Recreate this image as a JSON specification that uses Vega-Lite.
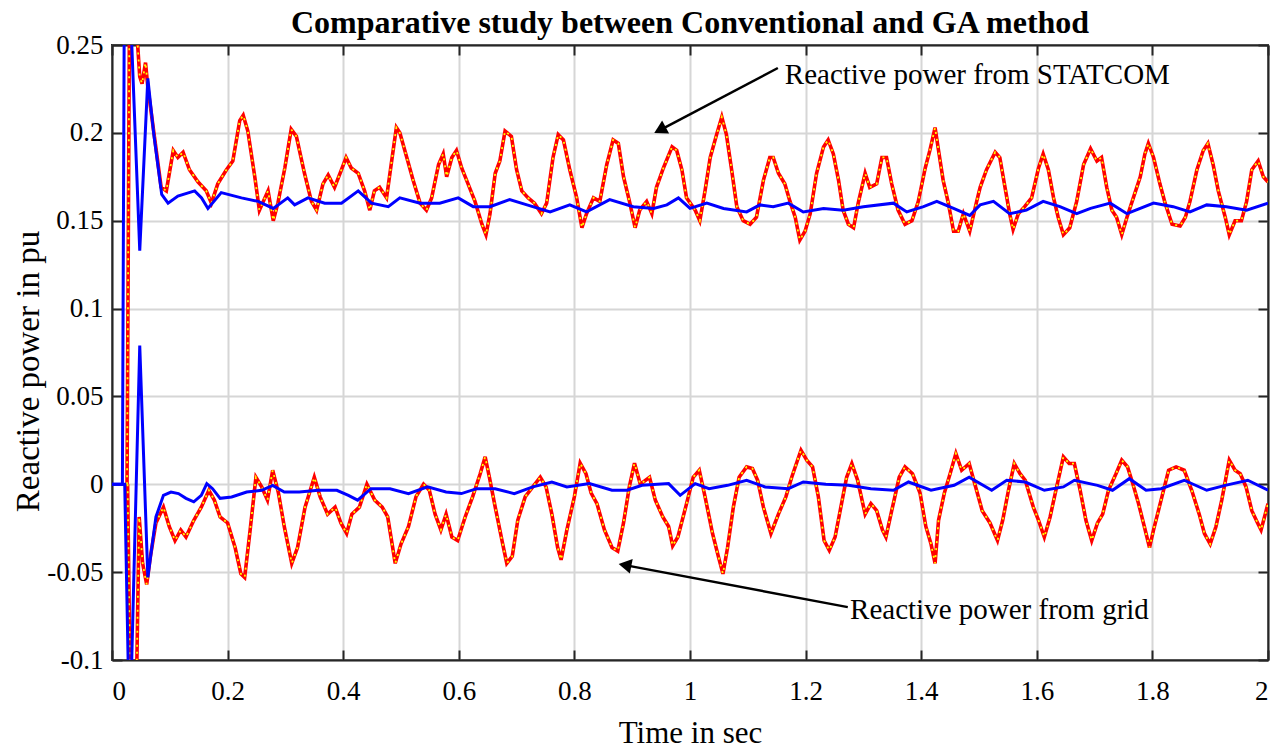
{
 "$schema": "https://vega.github.io/schema/vega-lite/v6.json",
 "width": 1156,
 "height": 615,
 "autosize": {"type": "none"},
 "padding": {"left": 112, "top": 45, "right": 20, "bottom": 90},
 "background": "white",
 "config": {
  "font": "Liberation Serif",
  "view": {"stroke": "#262626", "strokeWidth": 2},
  "axis": {
   "labelFont": "Liberation Serif", "labelFontSize": 27, "labelColor": "#000000",
   "titleFont": "Liberation Serif", "titleFontWeight": "normal", "titleColor": "#000000",
   "domainColor": "#262626", "domainWidth": 2,
   "tickColor": "#262626", "tickWidth": 2, "tickSize": -10,
   "gridColor": "#d6d6d6", "gridWidth": 2, "gridOpacity": 1
  }
 },
 "title": {"text": "Comparative study between Conventional and GA method", "font": "Liberation Serif", "fontSize": 32, "fontWeight": "bold", "color": "#000000", "offset": 8, "dy": 17, "anchor": "middle", "frame": "group"},
 "datasets": {
  "d": [
{"s":"sc","t":0.026,"q":0},{"s":"sc","t":0.03,"q":0.252},{"s":"sc","t":0.044,"q":0.252},{"s":"sc","t":0.048,"q":0.232},{"s":"sc","t":0.052,"q":0.228},{"s":"sc","t":0.058,"q":0.24},{"s":"sc","t":0.062,"q":0.226},{"s":"sc","t":0.085,"q":0.169},{"s":"sc","t":0.094,"q":0.167},{"s":"sc","t":0.106,"q":0.19},{"s":"sc","t":0.114,"q":0.186},{"s":"sc","t":0.123,"q":0.189},{"s":"sc","t":0.134,"q":0.179},{"s":"sc","t":0.149,"q":0.172},{"s":"sc","t":0.163,"q":0.167},{"s":"sc","t":0.172,"q":0.16},{"s":"sc","t":0.183,"q":0.171},{"s":"sc","t":0.198,"q":0.179},{"s":"sc","t":0.209,"q":0.184},{"s":"sc","t":0.221,"q":0.207},{"s":"sc","t":0.227,"q":0.21},{"s":"sc","t":0.235,"q":0.201},{"s":"sc","t":0.247,"q":0.175},{"s":"sc","t":0.255,"q":0.156},{"s":"sc","t":0.27,"q":0.167},{"s":"sc","t":0.279,"q":0.15},{"s":"sc","t":0.287,"q":0.16},{"s":"sc","t":0.299,"q":0.18},{"s":"sc","t":0.31,"q":0.202},{"s":"sc","t":0.319,"q":0.198},{"s":"sc","t":0.333,"q":0.177},{"s":"sc","t":0.345,"q":0.161},{"s":"sc","t":0.354,"q":0.156},{"s":"sc","t":0.365,"q":0.171},{"s":"sc","t":0.374,"q":0.176},{"s":"sc","t":0.385,"q":0.169},{"s":"sc","t":0.397,"q":0.179},{"s":"sc","t":0.405,"q":0.186},{"s":"sc","t":0.414,"q":0.18},{"s":"sc","t":0.426,"q":0.177},{"s":"sc","t":0.437,"q":0.167},{"s":"sc","t":0.446,"q":0.156},{"s":"sc","t":0.454,"q":0.167},{"s":"sc","t":0.463,"q":0.169},{"s":"sc","t":0.475,"q":0.163},{"s":"sc","t":0.483,"q":0.182},{"s":"sc","t":0.492,"q":0.203},{"s":"sc","t":0.498,"q":0.2},{"s":"sc","t":0.51,"q":0.186},{"s":"sc","t":0.521,"q":0.173},{"s":"sc","t":0.533,"q":0.16},{"s":"sc","t":0.544,"q":0.156},{"s":"sc","t":0.553,"q":0.163},{"s":"sc","t":0.565,"q":0.182},{"s":"sc","t":0.573,"q":0.188},{"s":"sc","t":0.579,"q":0.175},{"s":"sc","t":0.588,"q":0.186},{"s":"sc","t":0.596,"q":0.19},{"s":"sc","t":0.605,"q":0.18},{"s":"sc","t":0.616,"q":0.171},{"s":"sc","t":0.628,"q":0.161},{"s":"sc","t":0.64,"q":0.148},{"s":"sc","t":0.647,"q":0.142},{"s":"sc","t":0.654,"q":0.154},{"s":"sc","t":0.663,"q":0.177},{"s":"sc","t":0.671,"q":0.184},{"s":"sc","t":0.68,"q":0.201},{"s":"sc","t":0.691,"q":0.198},{"s":"sc","t":0.7,"q":0.179},{"s":"sc","t":0.709,"q":0.167},{"s":"sc","t":0.72,"q":0.163},{"s":"sc","t":0.731,"q":0.16},{"s":"sc","t":0.743,"q":0.154},{"s":"sc","t":0.752,"q":0.16},{"s":"sc","t":0.763,"q":0.186},{"s":"sc","t":0.772,"q":0.199},{"s":"sc","t":0.781,"q":0.196},{"s":"sc","t":0.792,"q":0.179},{"s":"sc","t":0.804,"q":0.163},{"s":"sc","t":0.813,"q":0.146},{"s":"sc","t":0.821,"q":0.154},{"s":"sc","t":0.833,"q":0.163},{"s":"sc","t":0.844,"q":0.161},{"s":"sc","t":0.856,"q":0.182},{"s":"sc","t":0.867,"q":0.196},{"s":"sc","t":0.876,"q":0.194},{"s":"sc","t":0.885,"q":0.175},{"s":"sc","t":0.896,"q":0.16},{"s":"sc","t":0.905,"q":0.146},{"s":"sc","t":0.913,"q":0.156},{"s":"sc","t":0.925,"q":0.161},{"s":"sc","t":0.934,"q":0.154},{"s":"sc","t":0.942,"q":0.169},{"s":"sc","t":0.954,"q":0.18},{"s":"sc","t":0.969,"q":0.192},{"s":"sc","t":0.977,"q":0.19},{"s":"sc","t":0.986,"q":0.179},{"s":"sc","t":0.994,"q":0.163},{"s":"sc","t":1.009,"q":0.156},{"s":"sc","t":1.017,"q":0.15},{"s":"sc","t":1.026,"q":0.167},{"s":"sc","t":1.035,"q":0.186},{"s":"sc","t":1.046,"q":0.199},{"s":"sc","t":1.055,"q":0.209},{"s":"sc","t":1.063,"q":0.199},{"s":"sc","t":1.072,"q":0.179},{"s":"sc","t":1.081,"q":0.158},{"s":"sc","t":1.092,"q":0.15},{"s":"sc","t":1.104,"q":0.148},{"s":"sc","t":1.115,"q":0.152},{"s":"sc","t":1.127,"q":0.173},{"s":"sc","t":1.138,"q":0.186},{"s":"sc","t":1.144,"q":0.186},{"s":"sc","t":1.153,"q":0.177},{"s":"sc","t":1.164,"q":0.171},{"s":"sc","t":1.173,"q":0.161},{"s":"sc","t":1.182,"q":0.152},{"s":"sc","t":1.19,"q":0.139},{"s":"sc","t":1.199,"q":0.144},{"s":"sc","t":1.208,"q":0.154},{"s":"sc","t":1.219,"q":0.177},{"s":"sc","t":1.231,"q":0.192},{"s":"sc","t":1.239,"q":0.196},{"s":"sc","t":1.248,"q":0.188},{"s":"sc","t":1.257,"q":0.173},{"s":"sc","t":1.265,"q":0.156},{"s":"sc","t":1.274,"q":0.148},{"s":"sc","t":1.283,"q":0.146},{"s":"sc","t":1.291,"q":0.16},{"s":"sc","t":1.303,"q":0.177},{"s":"sc","t":1.311,"q":0.169},{"s":"sc","t":1.323,"q":0.171},{"s":"sc","t":1.332,"q":0.186},{"s":"sc","t":1.34,"q":0.186},{"s":"sc","t":1.349,"q":0.171},{"s":"sc","t":1.36,"q":0.156},{"s":"sc","t":1.372,"q":0.148},{"s":"sc","t":1.384,"q":0.15},{"s":"sc","t":1.395,"q":0.161},{"s":"sc","t":1.407,"q":0.18},{"s":"sc","t":1.415,"q":0.19},{"s":"sc","t":1.424,"q":0.203},{"s":"sc","t":1.43,"q":0.19},{"s":"sc","t":1.438,"q":0.173},{"s":"sc","t":1.447,"q":0.16},{"s":"sc","t":1.456,"q":0.144},{"s":"sc","t":1.464,"q":0.144},{"s":"sc","t":1.473,"q":0.154},{"s":"sc","t":1.484,"q":0.144},{"s":"sc","t":1.496,"q":0.161},{"s":"sc","t":1.502,"q":0.169},{"s":"sc","t":1.513,"q":0.179},{"s":"sc","t":1.528,"q":0.189},{"s":"sc","t":1.536,"q":0.186},{"s":"sc","t":1.545,"q":0.169},{"s":"sc","t":1.553,"q":0.154},{"s":"sc","t":1.559,"q":0.145},{"s":"sc","t":1.568,"q":0.154},{"s":"sc","t":1.579,"q":0.158},{"s":"sc","t":1.591,"q":0.163},{"s":"sc","t":1.603,"q":0.18},{"s":"sc","t":1.611,"q":0.188},{"s":"sc","t":1.62,"q":0.179},{"s":"sc","t":1.629,"q":0.163},{"s":"sc","t":1.637,"q":0.152},{"s":"sc","t":1.646,"q":0.142},{"s":"sc","t":1.657,"q":0.146},{"s":"sc","t":1.669,"q":0.161},{"s":"sc","t":1.681,"q":0.182},{"s":"sc","t":1.693,"q":0.191},{"s":"sc","t":1.704,"q":0.184},{"s":"sc","t":1.712,"q":0.186},{"s":"sc","t":1.721,"q":0.169},{"s":"sc","t":1.73,"q":0.156},{"s":"sc","t":1.738,"q":0.152},{"s":"sc","t":1.747,"q":0.142},{"s":"sc","t":1.756,"q":0.152},{"s":"sc","t":1.767,"q":0.163},{"s":"sc","t":1.779,"q":0.175},{"s":"sc","t":1.787,"q":0.188},{"s":"sc","t":1.793,"q":0.194},{"s":"sc","t":1.802,"q":0.186},{"s":"sc","t":1.813,"q":0.171},{"s":"sc","t":1.822,"q":0.16},{"s":"sc","t":1.834,"q":0.148},{"s":"sc","t":1.848,"q":0.147},{"s":"sc","t":1.857,"q":0.152},{"s":"sc","t":1.865,"q":0.161},{"s":"sc","t":1.877,"q":0.179},{"s":"sc","t":1.888,"q":0.19},{"s":"sc","t":1.896,"q":0.194},{"s":"sc","t":1.905,"q":0.182},{"s":"sc","t":1.914,"q":0.167},{"s":"sc","t":1.926,"q":0.152},{"s":"sc","t":1.933,"q":0.142},{"s":"sc","t":1.943,"q":0.15},{"s":"sc","t":1.954,"q":0.15},{"s":"sc","t":1.963,"q":0.161},{"s":"sc","t":1.972,"q":0.179},{"s":"sc","t":1.983,"q":0.184},{"s":"sc","t":1.992,"q":0.175},{"s":"sc","t":2.0,"q":0.172},
{"s":"gc","t":0.027,"q":0},{"s":"gc","t":0.031,"q":-0.102},{"s":"gc","t":0.043,"q":-0.102},{"s":"gc","t":0.047,"q":-0.0186},{"s":"gc","t":0.053,"q":-0.045},{"s":"gc","t":0.06,"q":-0.057},{"s":"gc","t":0.0665,"q":-0.041},{"s":"gc","t":0.076,"q":-0.022},{"s":"gc","t":0.089,"q":-0.013},{"s":"gc","t":0.099,"q":-0.024},{"s":"gc","t":0.109,"q":-0.032},{"s":"gc","t":0.119,"q":-0.026},{"s":"gc","t":0.128,"q":-0.03},{"s":"gc","t":0.1415,"q":-0.0205},{"s":"gc","t":0.1545,"q":-0.013},{"s":"gc","t":0.1676,"q":-0.0034},{"s":"gc","t":0.177,"q":-0.009},{"s":"gc","t":0.187,"q":-0.0186},{"s":"gc","t":0.2,"q":-0.022},{"s":"gc","t":0.213,"q":-0.036},{"s":"gc","t":0.223,"q":-0.051},{"s":"gc","t":0.2295,"q":-0.053},{"s":"gc","t":0.239,"q":-0.026},{"s":"gc","t":0.249,"q":0.004},{"s":"gc","t":0.259,"q":-0.0015},{"s":"gc","t":0.269,"q":-0.009},{"s":"gc","t":0.278,"q":0.008},{"s":"gc","t":0.288,"q":-0.005},{"s":"gc","t":0.298,"q":-0.024},{"s":"gc","t":0.311,"q":-0.045},{"s":"gc","t":0.321,"q":-0.036},{"s":"gc","t":0.334,"q":-0.013},{"s":"gc","t":0.35,"q":0.004},{"s":"gc","t":0.36,"q":-0.007},{"s":"gc","t":0.373,"q":-0.017},{"s":"gc","t":0.386,"q":-0.013},{"s":"gc","t":0.396,"q":-0.022},{"s":"gc","t":0.406,"q":-0.028},{"s":"gc","t":0.415,"q":-0.017},{"s":"gc","t":0.428,"q":-0.013},{"s":"gc","t":0.441,"q":0.0},{"s":"gc","t":0.4545,"q":-0.009},{"s":"gc","t":0.4675,"q":-0.013},{"s":"gc","t":0.477,"q":-0.0186},{"s":"gc","t":0.49,"q":-0.045},{"s":"gc","t":0.5,"q":-0.034},{"s":"gc","t":0.513,"q":-0.024},{"s":"gc","t":0.526,"q":-0.007},{"s":"gc","t":0.539,"q":0.0},{"s":"gc","t":0.549,"q":-0.0034},{"s":"gc","t":0.559,"q":-0.017},{"s":"gc","t":0.569,"q":-0.026},{"s":"gc","t":0.578,"q":-0.017},{"s":"gc","t":0.588,"q":-0.03},{"s":"gc","t":0.598,"q":-0.032},{"s":"gc","t":0.611,"q":-0.0186},{"s":"gc","t":0.624,"q":-0.007},{"s":"gc","t":0.637,"q":0.006},{"s":"gc","t":0.6456,"q":0.0156},{"s":"gc","t":0.653,"q":0.004},{"s":"gc","t":0.663,"q":-0.013},{"s":"gc","t":0.676,"q":-0.034},{"s":"gc","t":0.683,"q":-0.045},{"s":"gc","t":0.6925,"q":-0.041},{"s":"gc","t":0.702,"q":-0.0205},{"s":"gc","t":0.715,"q":-0.007},{"s":"gc","t":0.728,"q":-0.0015},{"s":"gc","t":0.741,"q":0.004},{"s":"gc","t":0.751,"q":-0.0015},{"s":"gc","t":0.761,"q":-0.017},{"s":"gc","t":0.771,"q":-0.036},{"s":"gc","t":0.777,"q":-0.043},{"s":"gc","t":0.787,"q":-0.026},{"s":"gc","t":0.8,"q":-0.007},{"s":"gc","t":0.81,"q":0.012},{"s":"gc","t":0.82,"q":0.006},{"s":"gc","t":0.829,"q":-0.005},{"s":"gc","t":0.839,"q":-0.011},{"s":"gc","t":0.852,"q":-0.026},{"s":"gc","t":0.865,"q":-0.036},{"s":"gc","t":0.875,"q":-0.038},{"s":"gc","t":0.885,"q":-0.022},{"s":"gc","t":0.895,"q":-0.0015},{"s":"gc","t":0.904,"q":0.012},{"s":"gc","t":0.914,"q":0.0},{"s":"gc","t":0.93,"q":0.004},{"s":"gc","t":0.94,"q":-0.009},{"s":"gc","t":0.953,"q":-0.0186},{"s":"gc","t":0.963,"q":-0.024},{"s":"gc","t":0.97,"q":-0.035},{"s":"gc","t":0.979,"q":-0.03},{"s":"gc","t":0.9925,"q":-0.013},{"s":"gc","t":1.0055,"q":0.004},{"s":"gc","t":1.016,"q":0.008},{"s":"gc","t":1.026,"q":-0.007},{"s":"gc","t":1.039,"q":-0.028},{"s":"gc","t":1.049,"q":-0.041},{"s":"gc","t":1.057,"q":-0.051},{"s":"gc","t":1.065,"q":-0.036},{"s":"gc","t":1.075,"q":-0.013},{"s":"gc","t":1.085,"q":0.004},{"s":"gc","t":1.098,"q":0.0099},{"s":"gc","t":1.108,"q":0.009},{"s":"gc","t":1.117,"q":0.0023},{"s":"gc","t":1.127,"q":-0.013},{"s":"gc","t":1.14,"q":-0.028},{"s":"gc","t":1.153,"q":-0.017},{"s":"gc","t":1.166,"q":-0.007},{"s":"gc","t":1.176,"q":0.004},{"s":"gc","t":1.186,"q":0.0137},{"s":"gc","t":1.192,"q":0.0194},{"s":"gc","t":1.202,"q":0.0137},{"s":"gc","t":1.212,"q":0.0099},{"s":"gc","t":1.222,"q":-0.007},{"s":"gc","t":1.232,"q":-0.032},{"s":"gc","t":1.241,"q":-0.0376},{"s":"gc","t":1.251,"q":-0.03},{"s":"gc","t":1.261,"q":-0.013},{"s":"gc","t":1.271,"q":0.004},{"s":"gc","t":1.28,"q":0.0118},{"s":"gc","t":1.29,"q":0.0023},{"s":"gc","t":1.303,"q":-0.017},{"s":"gc","t":1.313,"q":-0.011},{"s":"gc","t":1.323,"q":-0.015},{"s":"gc","t":1.333,"q":-0.026},{"s":"gc","t":1.339,"q":-0.03},{"s":"gc","t":1.349,"q":-0.015},{"s":"gc","t":1.362,"q":0.004},{"s":"gc","t":1.372,"q":0.0099},{"s":"gc","t":1.385,"q":0.006},{"s":"gc","t":1.398,"q":-0.005},{"s":"gc","t":1.408,"q":-0.024},{"s":"gc","t":1.417,"q":-0.034},{"s":"gc","t":1.424,"q":-0.045},{"s":"gc","t":1.43,"q":-0.0205},{"s":"gc","t":1.44,"q":-0.005},{"s":"gc","t":1.45,"q":0.006},{"s":"gc","t":1.46,"q":0.0175},{"s":"gc","t":1.47,"q":0.008},{"s":"gc","t":1.483,"q":0.0118},{"s":"gc","t":1.4925,"q":0.0004},{"s":"gc","t":1.5055,"q":-0.015},{"s":"gc","t":1.519,"q":-0.022},{"s":"gc","t":1.532,"q":-0.032},{"s":"gc","t":1.541,"q":-0.0205},{"s":"gc","t":1.551,"q":-0.0034},{"s":"gc","t":1.561,"q":0.0118},{"s":"gc","t":1.571,"q":0.006},{"s":"gc","t":1.58,"q":0.0023},{"s":"gc","t":1.594,"q":-0.013},{"s":"gc","t":1.603,"q":-0.0205},{"s":"gc","t":1.613,"q":-0.03},{"s":"gc","t":1.623,"q":-0.0186},{"s":"gc","t":1.633,"q":-0.0034},{"s":"gc","t":1.646,"q":0.0156},{"s":"gc","t":1.656,"q":0.0118},{"s":"gc","t":1.665,"q":0.0118},{"s":"gc","t":1.675,"q":-0.0034},{"s":"gc","t":1.685,"q":-0.0205},{"s":"gc","t":1.695,"q":-0.032},{"s":"gc","t":1.705,"q":-0.022},{"s":"gc","t":1.714,"q":-0.017},{"s":"gc","t":1.724,"q":-0.0034},{"s":"gc","t":1.737,"q":0.006},{"s":"gc","t":1.747,"q":0.0137},{"s":"gc","t":1.757,"q":0.0099},{"s":"gc","t":1.766,"q":0.0004},{"s":"gc","t":1.776,"q":-0.011},{"s":"gc","t":1.786,"q":-0.024},{"s":"gc","t":1.795,"q":-0.036},{"s":"gc","t":1.802,"q":-0.026},{"s":"gc","t":1.815,"q":-0.009},{"s":"gc","t":1.828,"q":0.008},{"s":"gc","t":1.841,"q":0.0099},{"s":"gc","t":1.855,"q":0.008},{"s":"gc","t":1.868,"q":-0.0034},{"s":"gc","t":1.881,"q":-0.017},{"s":"gc","t":1.89,"q":-0.028},{"s":"gc","t":1.9,"q":-0.034},{"s":"gc","t":1.91,"q":-0.024},{"s":"gc","t":1.92,"q":-0.009},{"s":"gc","t":1.933,"q":0.0137},{"s":"gc","t":1.943,"q":0.008},{"s":"gc","t":1.952,"q":0.006},{"s":"gc","t":1.962,"q":-0.0015},{"s":"gc","t":1.972,"q":-0.015},{"s":"gc","t":1.982,"q":-0.022},{"s":"gc","t":1.988,"q":-0.026},{"s":"gc","t":2.0,"q":-0.011},
{"s":"sg","t":0,"q":0},{"s":"sg","t":0.018,"q":0},{"s":"sg","t":0.021,"q":0.252},{"s":"sg","t":0.034,"q":0.252},{"s":"sg","t":0.048,"q":0.133},{"s":"sg","t":0.062,"q":0.231},{"s":"sg","t":0.072,"q":0.2},{"s":"sg","t":0.086,"q":0.165},{"s":"sg","t":0.097,"q":0.16},{"s":"sg","t":0.114,"q":0.164},{"s":"sg","t":0.143,"q":0.167},{"s":"sg","t":0.155,"q":0.163},{"s":"sg","t":0.166,"q":0.157},{"s":"sg","t":0.189,"q":0.166},{"s":"sg","t":0.224,"q":0.163},{"s":"sg","t":0.253,"q":0.161},{"s":"sg","t":0.279,"q":0.157},{"s":"sg","t":0.304,"q":0.163},{"s":"sg","t":0.316,"q":0.159},{"s":"sg","t":0.339,"q":0.163},{"s":"sg","t":0.368,"q":0.16},{"s":"sg","t":0.397,"q":0.16},{"s":"sg","t":0.426,"q":0.167},{"s":"sg","t":0.449,"q":0.16},{"s":"sg","t":0.478,"q":0.158},{"s":"sg","t":0.498,"q":0.163},{"s":"sg","t":0.533,"q":0.16},{"s":"sg","t":0.567,"q":0.16},{"s":"sg","t":0.599,"q":0.163},{"s":"sg","t":0.625,"q":0.158},{"s":"sg","t":0.654,"q":0.158},{"s":"sg","t":0.688,"q":0.162},{"s":"sg","t":0.718,"q":0.159},{"s":"sg","t":0.758,"q":0.155},{"s":"sg","t":0.792,"q":0.159},{"s":"sg","t":0.821,"q":0.155},{"s":"sg","t":0.861,"q":0.162},{"s":"sg","t":0.902,"q":0.158},{"s":"sg","t":0.937,"q":0.157},{"s":"sg","t":0.96,"q":0.159},{"s":"sg","t":0.98,"q":0.163},{"s":"sg","t":1.0,"q":0.157},{"s":"sg","t":1.029,"q":0.16},{"s":"sg","t":1.058,"q":0.157},{"s":"sg","t":1.098,"q":0.155},{"s":"sg","t":1.121,"q":0.159},{"s":"sg","t":1.144,"q":0.158},{"s":"sg","t":1.17,"q":0.16},{"s":"sg","t":1.196,"q":0.155},{"s":"sg","t":1.231,"q":0.157},{"s":"sg","t":1.265,"q":0.156},{"s":"sg","t":1.3,"q":0.158},{"s":"sg","t":1.352,"q":0.16},{"s":"sg","t":1.375,"q":0.155},{"s":"sg","t":1.404,"q":0.158},{"s":"sg","t":1.427,"q":0.161},{"s":"sg","t":1.456,"q":0.157},{"s":"sg","t":1.484,"q":0.153},{"s":"sg","t":1.502,"q":0.159},{"s":"sg","t":1.525,"q":0.161},{"s":"sg","t":1.553,"q":0.154},{"s":"sg","t":1.582,"q":0.156},{"s":"sg","t":1.611,"q":0.161},{"s":"sg","t":1.64,"q":0.158},{"s":"sg","t":1.669,"q":0.154},{"s":"sg","t":1.693,"q":0.157},{"s":"sg","t":1.727,"q":0.16},{"s":"sg","t":1.756,"q":0.154},{"s":"sg","t":1.802,"q":0.16},{"s":"sg","t":1.836,"q":0.158},{"s":"sg","t":1.865,"q":0.155},{"s":"sg","t":1.894,"q":0.159},{"s":"sg","t":1.928,"q":0.158},{"s":"sg","t":1.963,"q":0.156},{"s":"sg","t":2.0,"q":0.16},
{"s":"gg","t":0,"q":0},{"s":"gg","t":0.022,"q":0},{"s":"gg","t":0.028,"q":-0.102},{"s":"gg","t":0.034,"q":-0.102},{"s":"gg","t":0.048,"q":0.079},{"s":"gg","t":0.062,"q":-0.053},{"s":"gg","t":0.076,"q":-0.0186},{"s":"gg","t":0.089,"q":-0.0063},{"s":"gg","t":0.102,"q":-0.0044},{"s":"gg","t":0.115,"q":-0.0053},{"s":"gg","t":0.128,"q":-0.008},{"s":"gg","t":0.1415,"q":-0.01},{"s":"gg","t":0.1545,"q":-0.0063},{"s":"gg","t":0.164,"q":0.0004},{"s":"gg","t":0.174,"q":-0.0025},{"s":"gg","t":0.187,"q":-0.008},{"s":"gg","t":0.207,"q":-0.0072},{"s":"gg","t":0.233,"q":-0.0044},{"s":"gg","t":0.259,"q":-0.0034},{"s":"gg","t":0.278,"q":-0.0006},{"s":"gg","t":0.298,"q":-0.0044},{"s":"gg","t":0.324,"q":-0.0044},{"s":"gg","t":0.357,"q":-0.0034},{"s":"gg","t":0.389,"q":-0.0034},{"s":"gg","t":0.409,"q":-0.0063},{"s":"gg","t":0.425,"q":-0.009},{"s":"gg","t":0.448,"q":-0.0025},{"s":"gg","t":0.481,"q":-0.0025},{"s":"gg","t":0.513,"q":-0.0053},{"s":"gg","t":0.546,"q":-0.0015},{"s":"gg","t":0.578,"q":-0.0044},{"s":"gg","t":0.6045,"q":-0.0053},{"s":"gg","t":0.631,"q":-0.0025},{"s":"gg","t":0.663,"q":-0.0025},{"s":"gg","t":0.696,"q":-0.0053},{"s":"gg","t":0.728,"q":-0.0015},{"s":"gg","t":0.761,"q":0.0013},{"s":"gg","t":0.787,"q":-0.0015},{"s":"gg","t":0.826,"q":0.0004},{"s":"gg","t":0.865,"q":-0.0034},{"s":"gg","t":0.891,"q":-0.0034},{"s":"gg","t":0.917,"q":-0.0006},{"s":"gg","t":0.963,"q":0.0004},{"s":"gg","t":0.983,"q":-0.0063},{"s":"gg","t":1.009,"q":0.0004},{"s":"gg","t":1.033,"q":-0.0025},{"s":"gg","t":1.065,"q":-0.0006},{"s":"gg","t":1.098,"q":0.0023},{"s":"gg","t":1.13,"q":-0.0015},{"s":"gg","t":1.17,"q":-0.0025},{"s":"gg","t":1.196,"q":0.0013},{"s":"gg","t":1.235,"q":0.0},{"s":"gg","t":1.274,"q":-0.0006},{"s":"gg","t":1.313,"q":-0.0025},{"s":"gg","t":1.352,"q":-0.0034},{"s":"gg","t":1.378,"q":0.0013},{"s":"gg","t":1.417,"q":-0.0034},{"s":"gg","t":1.457,"q":-0.0006},{"s":"gg","t":1.483,"q":0.004},{"s":"gg","t":1.522,"q":-0.0034},{"s":"gg","t":1.548,"q":0.0023},{"s":"gg","t":1.58,"q":0.0013},{"s":"gg","t":1.613,"q":-0.0034},{"s":"gg","t":1.646,"q":-0.0015},{"s":"gg","t":1.665,"q":0.0023},{"s":"gg","t":1.705,"q":-0.0006},{"s":"gg","t":1.731,"q":-0.0034},{"s":"gg","t":1.76,"q":0.0032},{"s":"gg","t":1.789,"q":-0.0034},{"s":"gg","t":1.815,"q":-0.0025},{"s":"gg","t":1.855,"q":0.0023},{"s":"gg","t":1.894,"q":-0.0034},{"s":"gg","t":1.926,"q":-0.0006},{"s":"gg","t":1.965,"q":0.0023},{"s":"gg","t":2.0,"q":-0.0034}
  ],
  "ann": [
   {"id": "statcom", "tx": 1.164, "ty": 0.233, "ax": 1.152, "ay": 0.2369, "bx": 0.948, "by": 0.2016, "label": "Reactive power from STATCOM"},
   {"id": "grid", "tx": 1.277, "ty": -0.0716, "ax": 1.273, "ay": -0.0699, "bx": 0.8875, "by": -0.046, "label": "Reactive power from grid"}
  ]
 },
 "layer": [
  {
   "data": {"name": "d"},
   "encoding": {
    "x": {"field": "t", "type": "quantitative", "scale": {"domain": [0, 2], "nice": false, "zero": false},
          "axis": {"orient": "bottom", "values": [0, 0.2, 0.4, 0.6, 0.8, 1, 1.2, 1.4, 1.6, 1.8, 2], "labelExpr": "'' + datum.value", "labelPadding": 28, "title": "Time in sec", "titleFontSize": 31, "titlePadding": 14, "grid": true}},
    "y": {"field": "q", "type": "quantitative", "scale": {"domain": [-0.1, 0.25], "nice": false, "zero": false},
          "axis": {"orient": "left", "values": [-0.1, -0.05, 0, 0.05, 0.1, 0.15, 0.2, 0.25], "labelExpr": "'' + datum.value", "labelPadding": 19, "title": "Reactive power in pu", "titleFontSize": 33, "titlePadding": 1, "titleY": 326, "grid": true}},
    "detail": {"field": "s", "type": "nominal"}
   },
   "layer": [
    {"transform": [{"filter": "datum.s == 'sc' || datum.s == 'gc'"}], "mark": {"type": "line", "clip": true, "color": "#FF0000", "strokeWidth": 3.6}},
    {"transform": [{"filter": "datum.s == 'sc' || datum.s == 'gc'"}], "mark": {"type": "line", "clip": true, "color": "#FFFF00", "strokeWidth": 1.8, "strokeDash": [2, 5]}},
    {"transform": [{"filter": "datum.s == 'sg' || datum.s == 'gg'"}], "mark": {"type": "line", "clip": true, "color": "#0000FF", "strokeWidth": 3}}
   ]
  },
  {
   "data": {"name": "ann"},
   "encoding": {
    "x": {"field": "ax", "type": "quantitative", "scale": {"domain": [0, 2], "nice": false, "zero": false},
          "axis": {"orient": "top", "values": [0, 0.2, 0.4, 0.6, 0.8, 1, 1.2, 1.4, 1.6, 1.8, 2], "labels": false, "title": null, "grid": false}},
    "y": {"field": "ay", "type": "quantitative", "scale": {"domain": [-0.1, 0.25], "nice": false, "zero": false},
          "axis": {"orient": "right", "values": [-0.1, -0.05, 0, 0.05, 0.1, 0.15, 0.2, 0.25], "labels": false, "title": null, "grid": false}}
   },
   "layer": [
    {"mark": {"type": "rule", "color": "#000000", "strokeWidth": 2.5}, "encoding": {"x2": {"field": "bx"}, "y2": {"field": "by"}}},
    {"transform": [{"filter": "datum.id == 'statcom'"}], "mark": {"type": "point", "shape": "triangle-right", "filled": true, "color": "#000000", "opacity": 1, "size": 220, "angle": 152}, "encoding": {"x": {"field": "bx", "type": "quantitative"}, "y": {"field": "by", "type": "quantitative"}}},
    {"transform": [{"filter": "datum.id == 'grid'"}], "mark": {"type": "point", "shape": "triangle-right", "filled": true, "color": "#000000", "opacity": 1, "size": 220, "angle": 191}, "encoding": {"x": {"field": "bx", "type": "quantitative"}, "y": {"field": "by", "type": "quantitative"}}},
    {"mark": {"type": "text", "align": "left", "baseline": "middle", "font": "Liberation Serif", "fontSize": 29, "color": "#000000"}, "encoding": {"x": {"field": "tx", "type": "quantitative"}, "y": {"field": "ty", "type": "quantitative"}, "text": {"field": "label"}}}
   ]
  }
 ],
 "resolve": {"scale": {"x": "independent", "y": "independent"}}
}
